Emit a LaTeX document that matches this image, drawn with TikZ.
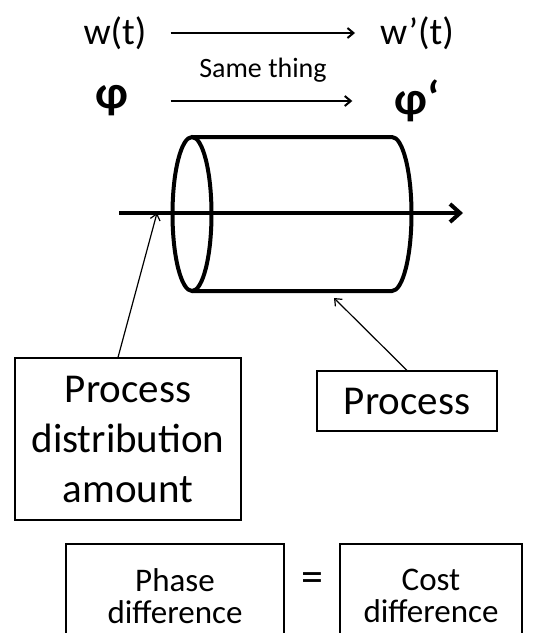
\documentclass[tikz,border=0pt]{standalone}
\usepackage{fontspec}
\setmainfont{Carlito}
\usetikzlibrary{arrows.meta,positioning}

\begin{document}
\begin{tikzpicture}[x=1pt, y=-1pt,
    >={Straight Barb[length=6pt,width=10pt]},
    lbl/.style={font=\fontsize{38}{46}\selectfont, inner sep=0pt},
    greek/.style={font=\fontsize{47}{50}\selectfont\bfseries, inner sep=0pt},
    box/.style={draw, line width=1.2pt, font=\fontsize{41}{50}\selectfont, align=center},
    map/.style={->, line width=2pt},
    pointer/.style={->, line width=1.2pt},
    tube/.style={line width=4pt}]
  \useasboundingbox (0,0) rectangle (540,633);
  % signal and its phase before / after the process
  \node[lbl] (w) at (115,33) {w(t)};
  \node[lbl] (w2) at (417,33) {w’(t)};
  \node[greek] (phi) at (112,101) {φ};
  \node[greek] (phi2) at (417,101) {φ‘};
  \node[font=\fontsize{28}{32}\selectfont, inner sep=0pt] (same) at (263,70) {Same thing};
  \draw[map] (w.east) -- (w2.west) [shorten <=24pt, shorten >=25pt];
  \draw[map] (phi.east) -- (phi2.west) [shorten <=42pt, shorten >=42pt];

  % the process drawn as a tube
  \draw[tube] (192,214) ellipse[x radius=19.5, y radius=77];
  \draw[tube] (192,137) -- (392,137) arc[start angle=-90, end angle=90, x radius=19.5, y radius=77] -- (192,291);
  \coordinate (in) at (119,213);
  \coordinate (out) at (463,213);
  \draw[tube, ->, >={Straight Barb[length=10pt,width=18pt]}] (in) -- (out);
  \coordinate (hit) at (157,213);
  \coordinate (wall) at (334,298);

  \node[box, minimum width=226pt, minimum height=162pt] (pda) at (128,439) {Process\\distribution\\amount};
  \node[box, minimum width=180pt, minimum height=60pt] (proc) at (407,401) {Process};
  \draw[pointer] ([xshift=-10pt]pda.north) -- (hit);
  \draw[pointer] (proc.north) -- (wall);

  \node[box, font=\fontsize{33}{32}\selectfont, minimum width=218pt, minimum height=104pt] (phase) at (175,596) {Phase\\difference};
  \node[box, font=\fontsize{33}{32}\selectfont, minimum width=182pt, minimum height=104pt] (cost) at (431,596) {Cost\\difference};
  \node[font=\fontsize{44}{46}\selectfont, inner sep=0pt] (eq) at (312,582) {=};
\end{tikzpicture}
\end{document}
